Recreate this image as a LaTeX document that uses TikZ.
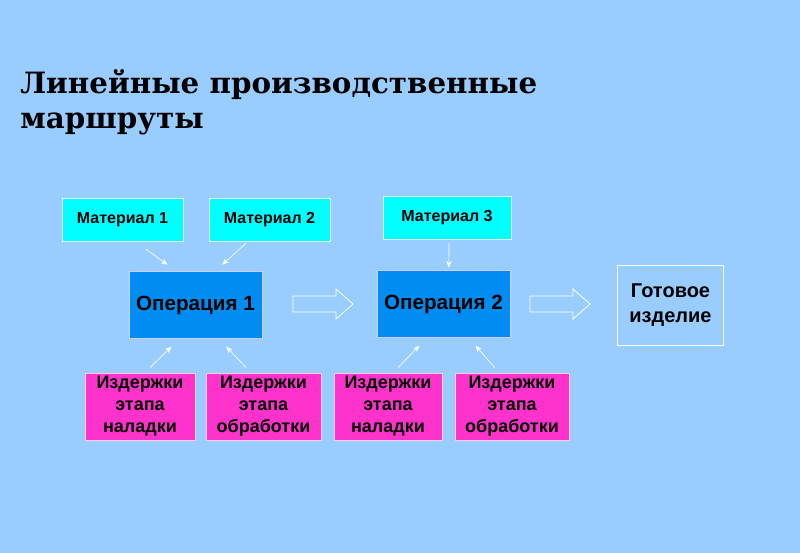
\documentclass[tikz,border=0pt]{standalone}
\usepackage{fontspec}
\setmainfont{Liberation Sans}
\newfontfamily\titlefont{DejaVu Serif}
\usetikzlibrary{arrows.meta}
\definecolor{bgblue}{RGB}{153,204,255}
\definecolor{matcyan}{RGB}{0,255,255}
\definecolor{opblue}{RGB}{0,140,240}
\definecolor{costpink}{RGB}{255,51,204}
\tikzset{
  matbox/.style={draw=white!90!cyan,fill=matcyan,minimum width=90.75pt,minimum height=32pt,inner sep=0pt,font=\bfseries\fontsize{12}{14}\selectfont},
  opbox/.style={draw=white!80!blue,fill=opblue,minimum width=100pt,minimum height=50pt,inner sep=0pt,font=\bfseries\fontsize{15.5}{18}\selectfont},
  costbox/.style={draw=white!80!magenta,fill=costpink,minimum height=50pt,inner sep=0pt,align=center,font=\bfseries\fontsize{13.5}{16.5}\selectfont},
  thinarrow/.style={draw=white,line width=0.5pt,-{Stealth[length=5pt,width=4pt]}},
  blockarrow/.style={draw=white,line width=0.6pt,fill=none}
}
\begin{document}
\begin{tikzpicture}[x=0.75pt,y=0.75pt,yscale=-1,xscale=1]
\fill[bgblue] (0,0) rectangle (800,553);
\useasboundingbox (0,0) rectangle (800,553);

% Title
\node [anchor=west,inner sep=0pt,align=left,font=\titlefont\bfseries\fontsize{22}{26}\selectfont] (title) at (20,102) {Линейные производственные\\маршруты};

% Materials
\node [matbox] (mat1) at (122.5,219.5) {Материал 1};
\node [matbox] (mat2) at (269.5,219.5) {Материал 2};
\node [matbox,minimum width=96pt] (mat3) at (447,217.5) {Материал 3};

% Operations
\node [opbox] (op1) at (195.5,305) {Операция 1};
\node [opbox] (op2) at (443.5,304) {Операция 2};

% Product
\node [draw=white,line width=0.6pt,minimum width=80pt,minimum height=60pt,inner sep=0pt,align=center,font=\bfseries\fontsize{15}{19}\selectfont] (prod) at (670.5,305) {Готовое\\изделие};

% Costs
\node [costbox,minimum width=82.5pt] (cost1) at (140,406.5) {Издержки\\этапа\\наладки};
\node [costbox,minimum width=86pt] (cost2) at (263.5,406.5) {Издержки\\этапа\\обработки};
\node [costbox,minimum width=81pt] (cost3) at (388,406.5) {Издержки\\этапа\\наладки};
\node [costbox,minimum width=85.5pt] (cost4) at (512,406.5) {Издержки\\этапа\\обработки};

% Thin arrows
\draw [thinarrow] ([xshift=17.5pt,yshift=6pt]mat1.south) -- ([xshift=-21pt,yshift=-5pt]op1.north);
\draw [thinarrow] ([xshift=-17.5pt,yshift=1.5pt]mat2.south) -- ([xshift=20pt,yshift=-5pt]op1.north);
\draw [thinarrow] ([xshift=1.5pt,yshift=3pt]mat3.south) -- ([xshift=4pt,yshift=-2pt]op2.north);
\draw [thinarrow] ([xshift=7.5pt,yshift=-4pt]cost1.north) -- ([xshift=-18pt,yshift=6pt]op1.south);
\draw [thinarrow] ([xshift=-13pt,yshift=-4pt]cost2.north) -- ([xshift=23pt,yshift=6pt]op1.south);
\draw [thinarrow] ([xshift=7.5pt,yshift=-4pt]cost3.north) -- ([xshift=-18pt,yshift=6pt]op2.south);
\draw [thinarrow] ([xshift=-13pt,yshift=-4pt]cost4.north) -- ([xshift=24pt,yshift=6pt]op2.south);

% Block arrows
\foreach \bx in {293,530}
  \draw [blockarrow] (\bx,296) -- (\bx+43,296) -- (\bx+43,289) -- (\bx+60,304) -- (\bx+43,319) -- (\bx+43,312) -- (\bx,312) -- cycle;

\end{tikzpicture}
\end{document}
